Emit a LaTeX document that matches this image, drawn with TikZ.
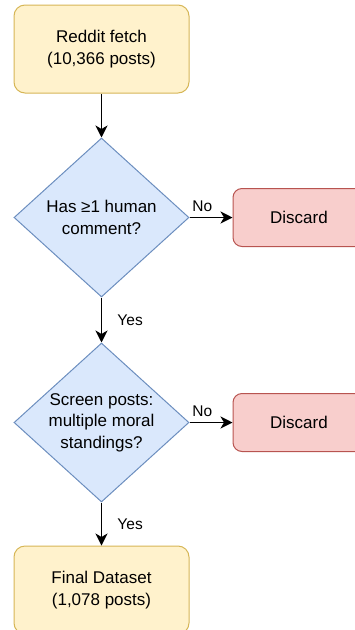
\documentclass[tikz,border=0pt]{standalone}
\usepackage{fontspec}
\setmainfont{Liberation Sans}
\usepackage{tikz}
\usetikzlibrary{positioning}
\usetikzlibrary{arrows.meta,shapes.geometric}

\definecolor{yfill}{HTML}{FFF2CC}
\definecolor{yline}{HTML}{D6B656}
\definecolor{bfill}{HTML}{DAE8FC}
\definecolor{bline}{HTML}{6C8EBF}
\definecolor{rfill}{HTML}{F8CECC}
\definecolor{rline}{HTML}{B85450}

\begin{document}
\begin{tikzpicture}[x=1pt,y=1pt,
    font=\fontsize{17}{21.5}\selectfont,
    databox/.style={shape=rectangle, rounded corners=11pt, draw=yline, fill=yfill, line width=1pt,
        minimum width=175pt, minimum height=88pt, align=center},
    question/.style={shape=diamond, aspect=1.1, inner sep=0pt, draw=bline, fill=bfill, line width=1pt,
        minimum width=175pt, minimum height=159pt, align=center},
    dropbox/.style={shape=rectangle, rounded corners=9pt, draw=rline, fill=rfill, line width=1pt,
        minimum width=132pt, minimum height=58pt, align=center},
    flow/.style={line width=1.3pt, -{Stealth[length=12pt,width=12pt,inset=3.5pt]}},
    answer/.style={font=\fontsize{15.5}{18}\selectfont}]
    \useasboundingbox (0,0) rectangle (355,-630);
    \node(fetch)[databox] at (101.5,-49) {Reddit fetch\\(10,366 posts)};
    \node(q1)[question, below=44pt of fetch] {Has ≥1 human\\comment?};
    \node(d1)[dropbox, right=43pt of q1] {Discard};
    \node(q2)[question, below=45pt of q1] {Screen posts:\\multiple moral\\standings?};
    \node(d2)[dropbox, right=43pt of q2] {Discard};
    \node(final)[databox, below=43pt of q2] {Final Dataset\\(1,078 posts)};
    %Lines
    \draw[flow] (fetch) -- (q1);
    \draw[flow] (q1) -- node[answer, above=2pt, pos=0.3] {No} (d1);
    \draw[flow] (q1) -- node[answer, right=12pt, midway] {Yes} (q2);
    \draw[flow] (q2) -- node[answer, above=2pt, pos=0.3] {No} (d2);
    \draw[flow] (q2) -- node[answer, right=12pt, midway] {Yes} (final);
\end{tikzpicture}
\end{document}
